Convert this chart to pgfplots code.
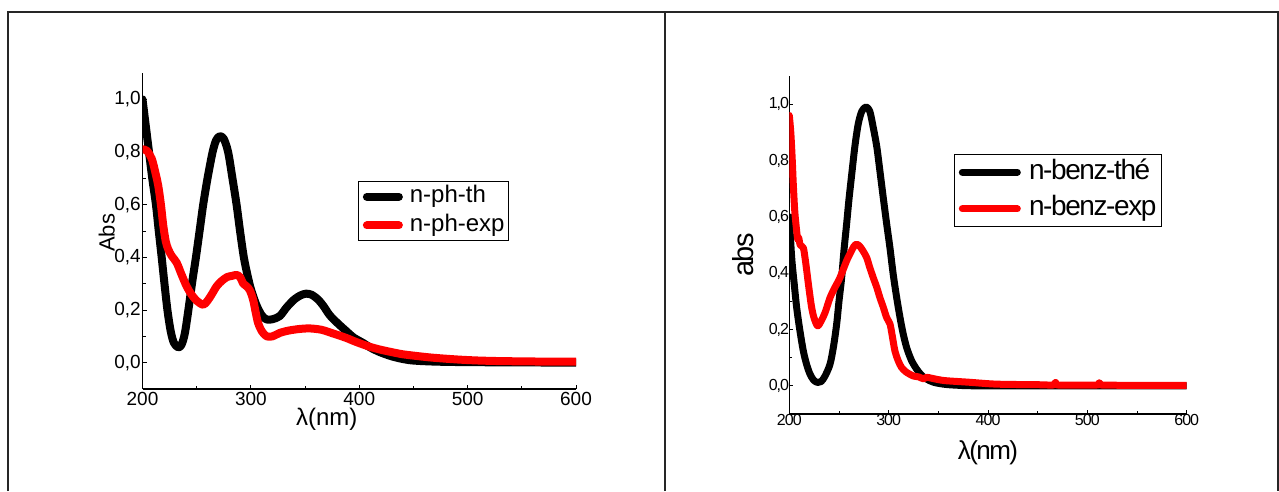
\documentclass[border=0pt]{standalone}
\usepackage{fontspec}
\setmainfont{Liberation Sans}
\newfontfamily\condfont[LetterSpace=-6]{Liberation Sans}
\newfontfamily\condlegfont[LetterSpace=-5]{Liberation Sans}
\usepackage{pgfplots}
\pgfplotsset{compat=1.18}
\definecolor{exred}{RGB}{255,0,0}

\pgfplotstableread{
x y
200 1.00
203 0.90
206 0.80
209 0.70
212.4 0.60
215 0.50
217.7 0.40
220 0.31
223 0.20
226 0.12
229 0.075
233 0.058
236 0.068
239 0.11
242 0.19
246 0.31
249.3 0.40
253 0.51
256 0.60
260 0.70
264.7 0.80
268 0.845
271.4 0.86
275 0.85
279 0.80
283 0.70
286.8 0.60
290 0.50
293.5 0.40
297 0.33
300 0.28
305 0.22
310 0.18
314.5 0.164
320 0.165
326.7 0.177
333 0.21
340 0.24
346 0.256
351 0.262
356 0.258
362 0.24
367 0.215
372.8 0.18
380 0.15
388 0.12
395 0.095
403.5 0.075
410 0.058
419 0.04
430 0.024
440 0.014
450 0.008
470 0.004
500 0.002
550 0.001
600 0.000
}\phth

\pgfplotstableread{
x y
200 0.81
204 0.805
208.5 0.775
212 0.72
214.6 0.67
217 0.60
219.2 0.52
221.5 0.46
223.8 0.43
227 0.405
231.5 0.38
236 0.335
240.7 0.29
245 0.26
250 0.235
256 0.22
260 0.235
264 0.26
268.4 0.29
273 0.31
278 0.325
283 0.33
286.8 0.333
290 0.325
293 0.30
296 0.29
299 0.275
302 0.24
304.5 0.19
306.7 0.15
310 0.12
314.5 0.10
320 0.10
326.7 0.113
335 0.122
345 0.128
354.4 0.13
365 0.125
375 0.112
388 0.094
395 0.082
403.5 0.069
410 0.06
418.9 0.05
430 0.04
440 0.032
449.6 0.027
465 0.02
480 0.015
495 0.011
511 0.008
530 0.006
550 0.005
575 0.004
600 0.004
}\phexp

\pgfplotstableread{
x y
200 0.60
202.4 0.455
205 0.36
207.4 0.278
210.5 0.20
214.1 0.124
217.5 0.075
220.8 0.042
224.5 0.02
228.5 0.012
232 0.015
236 0.035
241 0.077
244.5 0.14
247.7 0.22
250 0.30
252.7 0.384
255 0.48
257.7 0.575
260 0.66
262.8 0.75
266 0.85
269.4 0.93
273 0.975
277.2 0.99
281 0.975
284.5 0.917
288 0.85
291.2 0.763
294.5 0.67
298 0.575
301.3 0.49
305 0.385
309.7 0.278
314 0.195
318.1 0.136
323 0.09
328.2 0.059
333 0.038
338.2 0.024
345 0.013
355 0.006
370 0.002
400 0.000
600 0.000
}\benzth

\pgfplotstableread{
x y
200 0.96
201.5 0.90
203 0.80
204 0.717
205.5 0.62
207.4 0.55
208.5 0.52
209.5 0.525
211 0.50
214.1 0.49
216 0.45
217.5 0.41
220 0.34
222.5 0.278
225 0.24
228.5 0.213
232 0.23
236 0.26
241 0.313
246 0.35
251 0.384
257.7 0.444
262 0.475
265 0.495
267.8 0.503
271 0.495
274 0.48
277.9 0.455
281 0.42
284.5 0.384
288 0.35
291.2 0.313
294.5 0.28
298 0.242
301.3 0.22
303.5 0.18
306.3 0.124
309.5 0.09
313 0.065
318 0.048
324.8 0.035
330 0.032
335 0.025
338.2 0.03
342 0.028
350 0.022
358.3 0.018
380 0.013
408.7 0.006
450 0.004
466 0.003
468 0.012
470 0.003
510 0.003
512 0.011
514 0.003
550 0.002
600 0.002
}\benzexp

\begin{document}
\begin{tikzpicture}
\path[use as bounding box] (0pt,0pt) rectangle (1279pt,491pt);
\draw[line width=1.6pt, black!85] (8pt,0pt) -- (8pt,478.7pt) -- (1278pt,478.7pt) -- (1278pt,0pt);
\draw[line width=1.6pt, black!85] (665pt,0pt) -- (665pt,478.7pt);

\begin{axis}[
  at={(142.5pt,102pt)}, anchor=south west,
  scale only axis, width=433.5pt, height=316pt,
  xmin=200, xmax=600, ymin=-0.1, ymax=1.1,
  axis lines=left, axis line style={-, line width=1.5pt},
  xtick={200,300,400,500,600}, ytick={0,0.2,0.4,0.6,0.8,1.0},
  minor x tick num=1, minor y tick num=1,
  tick align=inside, major tick length=4pt, minor tick length=3pt,
  tick style={line width=1pt, black},
  /pgf/number format/assume math mode=true,
  x tick label style={inner sep=0pt, yshift=-3.5pt, font=\fontsize{19}{22}\selectfont},
  y tick label style={/pgf/number format/fixed, /pgf/number format/fixed zerofill,
    /pgf/number format/precision=1, /pgf/number format/use comma,
    inner sep=0pt, xshift=-1.5pt, font=\fontsize{19}{22}\selectfont},
  xlabel={λ(nm)},
  xlabel style={at={(axis description cs:0.425,-0.095)}, anchor=center, inner sep=0pt, font=\fontsize{24}{28}\selectfont},
  ylabel={Abs},
  ylabel style={at={(axis description cs:-0.0826,0.494)}, anchor=center, rotate=0, inner sep=0pt, font=\fontsize{22}{25}\selectfont},
  legend style={at={(0.498,0.659)}, anchor=north west, draw=black, line width=1pt,
    inner xsep=4pt, inner ysep=4.5pt, row sep=6.7pt, column sep=7pt,
    nodes={inner sep=0pt, text height=17pt, text depth=5pt},
    font=\fontsize{24}{28}\selectfont},
  legend cell align=left,
  legend image code/.code={\draw[#1] (0pt,0pt) -- (32pt,0pt);},
]
\addplot[black, line width=8pt, line cap=round, line join=round, smooth] table {\phth};
\addlegendentry{n-ph-th}
\addplot[exred, line width=8pt, line cap=round, line join=round, smooth] table {\phexp};
\addlegendentry{n-ph-exp}
\end{axis}

\begin{axis}[
  at={(789.3pt,77pt)}, anchor=south west,
  scale only axis, width=397.4pt, height=338pt,
  xmin=200, xmax=600, ymin=-0.1, ymax=1.1,
  axis lines=left, axis line style={-, line width=1.3pt},
  xtick={200,300,400,500,600}, ytick={0,0.2,0.4,0.6,0.8,1.0},
  minor x tick num=1, minor y tick num=1,
  tick align=inside, major tick length=4pt, minor tick length=3pt,
  tick style={line width=0.8pt, black},
  /pgf/number format/assume math mode=true,
  x tick label style={inner sep=0pt, yshift=-0.5pt, font=\condfont\fontsize{16}{19}\selectfont},
  y tick label style={/pgf/number format/fixed, /pgf/number format/fixed zerofill,
    /pgf/number format/precision=1, /pgf/number format/use comma,
    inner sep=0pt, xshift=0pt, font=\condfont\fontsize{16}{19}\selectfont},
  xlabel={λ(nm)},
  xlabel style={at={(axis description cs:0.5,-0.115)}, anchor=center, inner sep=0pt, font=\condfont\fontsize{26}{30}\selectfont},
  ylabel={abs},
  ylabel style={at={(axis description cs:-0.1165,0.470)}, anchor=center, rotate=0, inner sep=0pt, font=\condfont\fontsize{29}{33}\selectfont},
  legend style={at={(0.414,0.769)}, anchor=north west, draw=black, line width=1pt,
    inner xsep=4.5pt, inner ysep=4.6pt, row sep=10.7pt, column sep=8.2pt,
    nodes={inner sep=0pt, text height=20pt, text depth=6pt},
    font=\condlegfont\fontsize{28}{32}\selectfont},
  legend cell align=left,
  legend image code/.code={\draw[#1] (0pt,0pt) -- (55pt,0pt);},
]
\addplot[black, line width=7pt, line cap=round, line join=round, smooth] table {\benzth};
\addlegendentry{n-benz-thé}
\addplot[exred, line width=7pt, line cap=round, line join=round, smooth] table {\benzexp};
\addlegendentry{n-benz-exp}
\end{axis}
\end{tikzpicture}
\end{document}
